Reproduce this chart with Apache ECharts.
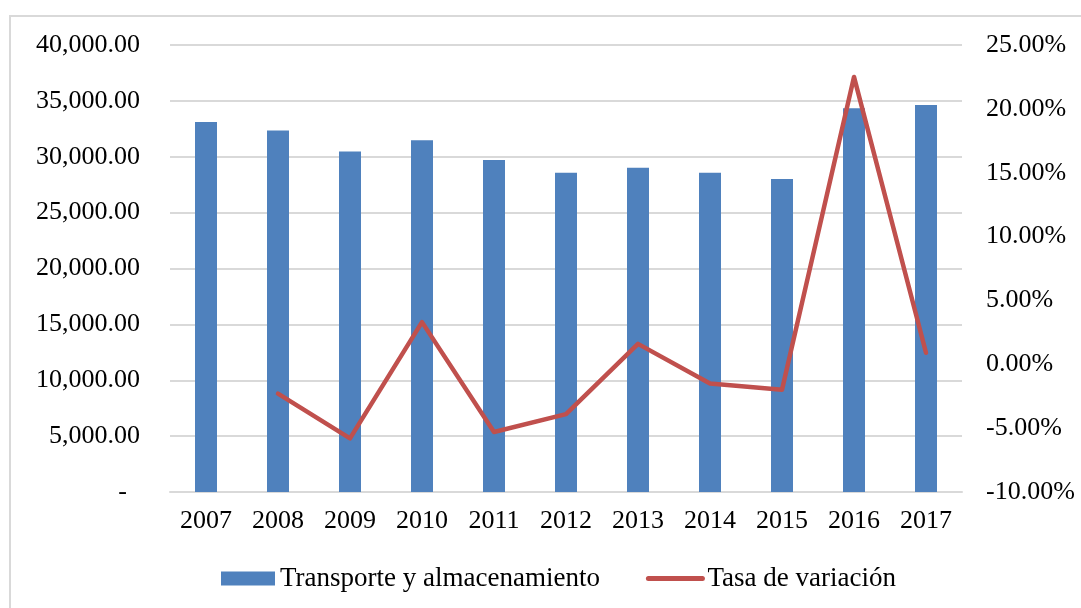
<!DOCTYPE html>
<html lang="es">
	<head>
		<meta charset="UTF-8">
		<title>Transporte y almacenamiento</title>
		<script src="https://cdn.jsdelivr.net/npm/echarts@6/dist/echarts.min.js" type="text/javascript" charset="utf-8"></script>
		<style>
			html, body { margin: 0; padding: 0; background: #fff; overflow: hidden; }
			#marco { position: absolute; left: 9px; top: 15px; width: 1200px; height: 700px; border: 2px solid #d9d9d9; }
			#myChart { position: absolute; left: 0; top: 0; width: 1081px; height: 608px; }
		</style>
	</head>
	<body>
		<div id="marco"></div>
		<div id="myChart"></div>
		<script type="text/javascript">
			// años (eje x)
			var years = ['2007', '2008', '2009', '2010', '2011', '2012', '2013', '2014', '2015', '2016', '2017'];
			// valores de las barras
			var transporte = [33110, 32360, 30480, 31470, 29710, 28570, 29020, 28570, 28010, 34330, 34630];
			// tasa de variación (%), 2007 sin dato
			var tasa = [null, -2.3, -5.8, 3.3, -5.3, -3.9, 1.6, -1.5, -2.0, 22.5, 0.9];

			var fuente = 'Liberation Serif';
			var gris = '#d9d9d9';
			var tam = 26;

			var myChart = echarts.init(document.getElementById('myChart'));
			var option = {
				animation: false,
				textStyle: { fontFamily: fuente },
				grid: {
					left: 170,
					right: 119,
					top: 45,
					bottom: 116
				},
				legend: {
					bottom: 11,
					left: 216,
					itemWidth: 54,
					itemHeight: 14,
					itemGap: 46,
					textStyle: { fontFamily: fuente, fontSize: 27, color: '#000' },
					data: [
						{ name: 'Transporte y almacenamiento', icon: 'rect' },
						{
							name: 'Tasa de variación',
							itemStyle: { opacity: 0 },
							lineStyle: { width: 5, cap: 'round', color: '#c0504d' }
						}
					]
				},
				xAxis: [{
					type: 'category',
					data: years,
					axisTick: { show: false },
					axisLine: { lineStyle: { color: gris, width: 2 } },
					axisLabel: { color: '#000', fontSize: tam, fontFamily: fuente, margin: 16 }
				}],
				yAxis: [{
					type: 'value',
					min: 0,
					max: 40000,
					interval: 5000,
					axisLine: { show: false },
					axisTick: { show: false },
					splitLine: { lineStyle: { color: gris, width: 2 } },
					axisLabel: {
						color: '#000',
						fontSize: tam,
						fontFamily: fuente,
						margin: 30,
						formatter: function (v) {
							if (v === 0) return '-  ';
							return v.toLocaleString('en-US', { minimumFractionDigits: 2, maximumFractionDigits: 2 });
						}
					}
				}, {
					type: 'value',
					min: -10,
					max: 25,
					interval: 5,
					axisLine: { show: false },
					axisTick: { show: false },
					splitLine: { show: false },
					axisLabel: {
						color: '#000',
						fontSize: tam,
						fontFamily: fuente,
						margin: 24,
						formatter: function (v) { return v.toFixed(2) + '%'; }
					}
				}],
				series: [{
					name: 'Transporte y almacenamiento',
					type: 'bar',
					barWidth: 22,
					data: transporte,
					itemStyle: { color: '#4f81bd' }
				}, {
					name: 'Tasa de variación',
					type: 'line',
					yAxisIndex: 1,
					data: tasa,
					symbol: 'none',
					connectNulls: false,
					itemStyle: { color: '#c0504d' },
					lineStyle: { color: '#c0504d', width: 4.5, cap: 'round', join: 'round' }
				}]
			};
			myChart.setOption(option);
		</script>
	</body>
</html>
